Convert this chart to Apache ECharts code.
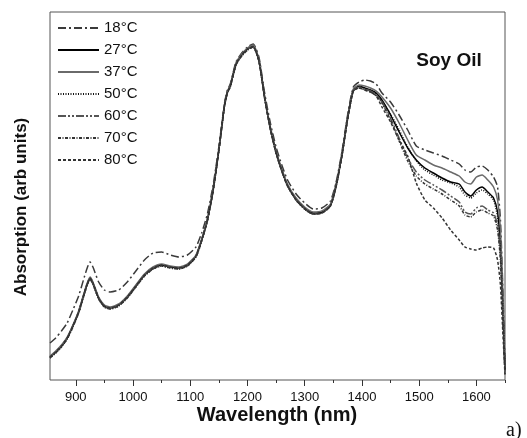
<!DOCTYPE html>
<html>
<head>
<meta charset="utf-8">
<script src="https://cdn.jsdelivr.net/npm/echarts@6/dist/echarts.min.js"></script>
<style>
html,body{margin:0;padding:0;background:#fff;}
#chart{width:527px;height:438px;}
</style>
</head>
<body>
<div id="chart"></div>
<script>
// Wavelength grid (nm)
var wavelengths = [855,865,875,885,895,905,915,920,925,930,940,950,960,975,990,1005,1020,1035,1050,1065,1080,1095,1110,1120,1130,1140,1150,1160,1165,1170,1180,1190,1200,1210,1220,1230,1240,1250,1260,1270,1285,1300,1315,1330,1345,1355,1365,1375,1385,1395,1405,1415,1425,1435,1450,1465,1480,1495,1510,1525,1540,1555,1570,1580,1590,1600,1610,1620,1630,1637,1642,1646,1650];

// Absorption (arbitrary units)
var abs18 = [37,42,49,57,70,84,103,112,118,113,98,90,88,90,98,109,120,127,128,125,123,125,133,147,166,195,233,277,290,296,318,327,333,336,323,287,257,233,215,200,186,177,171,172,179,198,228,265,293,298,300,299,296,287,278,265,250,234,230,227,224,220,216,210,208,213,214,210,203,193,160,95,15];
var abs27 = [23,28,34,42,54,68,87,96,102,97,82,74,72,75,83,94,105,112,115,113,112,115,124,140,160,190,230,275,288,294,316,325,331,334,320,283,252,228,210,195,181,172,167,168,175,195,225,262,290,294,292,290,287,280,265,248,232,220,212,207,202,198,196,188,184,190,193,188,182,168,135,80,10];
var abs37 = [24,29,35,43,55,69,88,97,103,98,83,75,73,76,84,95,106,113,116,114,113,116,125,141,161,191,231,276,289,295,317,326,332,335,321,284,253,229,211,196,182,173,168,169,176,196,226,263,291,295,294,292,289,283,272,257,240,225,220,215,212,208,204,198,196,203,205,200,193,180,150,90,12];
var abs50 = [22,27,33,41,53,67,86,95,101,96,81,73,71,74,82,93,104,111,114,112,111,114,123,139,159,189,229,274,287,293,315,324,330,333,319,282,251,227,209,194,180,171,166,167,174,194,224,261,289,293,291,289,286,279,266,250,233,219,210,205,200,197,193,185,182,187,190,186,180,163,130,75,8];
var abs60 = [23,28,34,42,54,68,87,96,101,96,82,74,72,75,83,94,105,112,115,113,112,115,124,140,160,190,230,275,288,294,316,325,331,333,319,282,251,227,209,194,180,171,166,167,174,194,224,261,289,293,291,289,285,278,262,242,222,208,200,195,190,184,178,168,166,172,174,170,167,155,125,70,8];
var abs70 = [22,27,33,41,53,67,86,95,101,96,81,73,71,74,82,93,104,111,114,112,111,114,123,139,159,189,229,274,287,293,315,324,330,333,319,282,251,227,209,194,180,171,166,167,174,194,224,261,289,292,290,288,284,277,260,239,219,204,196,191,186,180,174,165,163,168,170,167,164,150,120,65,6];
var abs80 = [23,28,34,42,54,68,87,96,102,97,82,74,72,75,83,94,105,112,115,113,112,115,124,140,160,190,230,275,288,294,316,325,331,333,319,282,251,227,209,194,180,171,166,167,174,194,224,261,289,292,290,288,284,273,258,240,224,197,180,172,162,150,140,133,131,130,132,133,132,120,95,50,5];

var seriesNames = ['18°C','27°C','37°C','50°C','60°C','70°C','80°C'];
var majorTicks = [900,1000,1100,1200,1300,1400,1500,1600];
var minorTicks = [950,1050,1150,1250,1350,1450,1550,1650];

var seriesValues = [abs18, abs27, abs37, abs50, abs60, abs70, abs80];
var styles = [
  {color:'#3a3a3a', type:[8,3,2,3]},
  {color:'#000000', type:'solid'},
  {color:'#6a6a6a', type:'solid'},
  {color:'#111111', type:[1,1.5]},
  {color:'#555555', type:[8,2,2,2,2,2]},
  {color:'#333333', type:[3,1.5,1,1.5]},
  {color:'#333333', type:[3,2]}
];

function pairs(vals){
  return wavelengths.map(function(w,i){ return [w, vals[i]]; });
}

var FONT = 'Liberation Sans, Arial, Helvetica, sans-serif';
var chart = echarts.init(document.getElementById('chart'), null, {renderer:'canvas'});
chart.setOption({
  animation:false,
  backgroundColor:'#ffffff',
  grid:{left:50,right:22,top:12,bottom:58,show:true,borderColor:'#555',borderWidth:1,backgroundColor:'transparent'},
  legend:{
    orient:'vertical', left:57, top:17, padding:0,
    itemWidth:41, itemHeight:14, itemGap:0,
    itemStyle:{opacity:0},
    textStyle:{fontFamily:FONT,fontSize:15,color:'#111',lineHeight:22},
    data:seriesNames
  },
  xAxis:[{
    type:'value', min:855, max:1650, position:'bottom',
    axisLine:{show:false},
    splitLine:{show:false},
    axisTick:{show:true, length:6, inside:false, customValues:majorTicks, lineStyle:{color:'#333',width:1}},
    axisLabel:{show:true, customValues:majorTicks, margin:11, fontFamily:FONT, fontSize:13, color:'#111',
      formatter:function(v){ return String(v); }}
  },{
    type:'value', min:855, max:1650, position:'bottom',
    axisLine:{show:false},
    splitLine:{show:false},
    axisTick:{show:true, length:3, inside:false, customValues:minorTicks, lineStyle:{color:'#333',width:1}},
    axisLabel:{show:false}
  }],
  yAxis:{
    type:'value', min:0, max:368,
    axisLine:{show:false}, axisTick:{show:false}, axisLabel:{show:false}, splitLine:{show:false}
  },
  graphic:[
    {type:'text', x:277, y:415, style:{text:'Wavelength (nm)', font:'bold 20px '+FONT, fill:'#111', align:'center', verticalAlign:'middle'}},
    {type:'text', x:21, y:207, rotation:Math.PI/2, style:{text:'Absorption (arb units)', font:'bold 17px '+FONT, fill:'#111', align:'center', verticalAlign:'middle'}},
    {type:'text', x:449, y:61, style:{text:'Soy Oil', font:'bold 19px '+FONT, fill:'#111', align:'center', verticalAlign:'middle'}},
    {type:'text', x:506, y:431, style:{text:'a)', font:'20px Liberation Serif, Times New Roman, serif', fill:'#111', align:'left', verticalAlign:'middle'}}
  ],
  series: seriesNames.map(function(name, k){
    return {
      name:name, type:'line', xAxisIndex:0, yAxisIndex:0,
      data:pairs(seriesValues[k]),
      showSymbol:false, symbol:'none', smooth:0.2,
      itemStyle:{color:styles[k].color},
      lineStyle:{color:styles[k].color, width:1.5, type:styles[k].type}
    };
  })
});
</script>
</body>
</html>
